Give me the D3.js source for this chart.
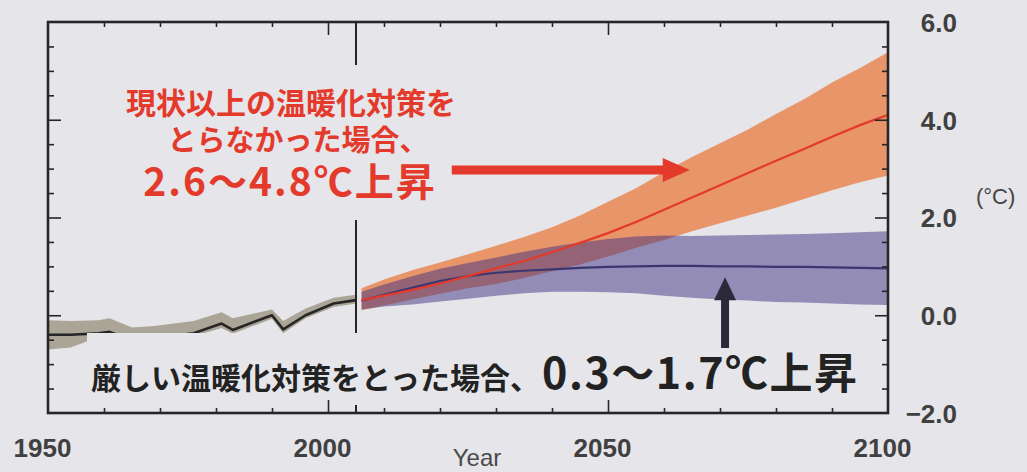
<!DOCTYPE html>
<html>
<head>
<meta charset="utf-8">
<script src="https://cdn.jsdelivr.net/npm/d3@7"></script>
<style>
  html, body { margin: 0; padding: 0; background: #e5e5ea; }
  svg { display: block; }
</style>
</head>
<body>
<svg id="chart" width="1027" height="472"></svg>
<script>
// Observed global mean surface temperature change (°C) and two projected pathways

// Observed record
const histYears = [1950, 1954, 1959, 1961, 1965, 1969, 1976, 1981, 1983, 1990, 1992, 1996, 2001, 2005];
const histMean  = [-0.40, -0.40, -0.37, -0.34, -0.51, -0.47, -0.37, -0.17, -0.30, 0.00, -0.29, 0.00, 0.24, 0.31];
const histHigh  = [-0.10, -0.12, -0.10, -0.06, -0.25, -0.22, -0.12, 0.06, -0.06, 0.12, -0.12, 0.14, 0.36, 0.42];
const histLow   = [-0.70, -0.66, -0.45, -0.42, -0.56, -0.53, -0.43, -0.26, -0.38, -0.07, -0.37, -0.06, 0.17, 0.24];

// Projection years
const projYears = [2006, 2010, 2015, 2020, 2025, 2030, 2035, 2040, 2045, 2050,
                   2055, 2060, 2065, 2070, 2075, 2080, 2085, 2090, 2095, 2100];

// High-emission pathway (no further mitigation)
const highMean  = [0.31, 0.40, 0.52, 0.65, 0.80, 0.96, 1.11, 1.29, 1.48, 1.68,
                   1.91, 2.16, 2.41, 2.66, 2.91, 3.16, 3.40, 3.65, 3.89, 4.10];
const highUpper = [0.55, 0.73, 0.92, 1.08, 1.25, 1.42, 1.60, 1.80, 2.04, 2.32,
                   2.60, 2.93, 3.24, 3.52, 3.80, 4.12, 4.42, 4.76, 5.06, 5.38];
const highLower = [0.10, 0.20, 0.32, 0.44, 0.55, 0.64, 0.76, 0.90, 1.04, 1.20,
                   1.38, 1.54, 1.72, 1.88, 2.04, 2.20, 2.38, 2.56, 2.72, 2.86];

// Strong-mitigation pathway
const lowMean   = [0.30, 0.42, 0.56, 0.70, 0.80, 0.87, 0.91, 0.94, 0.97, 0.99,
                   1.00, 1.01, 1.01, 1.00, 1.00, 0.99, 0.99, 0.98, 0.97, 0.96];
const lowUpper  = [0.48, 0.63, 0.80, 0.95, 1.07, 1.18, 1.30, 1.40, 1.49, 1.56,
                   1.61, 1.63, 1.62, 1.63, 1.64, 1.65, 1.66, 1.68, 1.70, 1.72];
const lowLower  = [0.12, 0.18, 0.22, 0.28, 0.34, 0.40, 0.45, 0.48, 0.48, 0.47,
                   0.45, 0.40, 0.36, 0.32, 0.30, 0.27, 0.26, 0.24, 0.22, 0.21];

// Axis ticks and labels
const xLabelYears = [1950, 2000, 2050, 2100];
const xMajorTicks = [2000, 2050];
const xMinorTicks = [1960, 1970, 1980, 1990, 2010, 2020, 2030, 2040, 2060, 2070, 2080, 2090];
const yLabelValues = [-2, 0, 2, 4, 6];
const yMajorTicks = [0, 2, 4];
const yMinorTicks = [-1.5, -1, -0.5, 0.5, 1, 1.5, 2.5, 3, 3.5, 4.5, 5, 5.5];
const baseYear = 2005;

// Annotation text
const highNoteLines = ["現状以上の温暖化対策を", "とらなかった場合、", "2.6～4.8℃上昇"];
const lowNoteSmall = "厳しい温暖化対策をとった場合、";
const lowNoteLarge = "0.3～1.7℃上昇";
const unitLabel = "(°C)";
const xTitle = "Year";

// Arrow anchors in data space: [year, value] tail -> head
const highArrow = [[2022.1, 2.97], [2064.6, 2.97]];
const lowArrow  = [[2070.9, -0.67], [2070.9, 0.78]];

const BG = "#e5e5ea";
const RED = "#e33a2c";
const INK = "#262626";

const svg = d3.select("#chart");
const W = 1027, H = 472;
const plot = { left: 48, right: 888, top: 22, bottom: 413 };

const x = d3.scaleLinear().domain([1950, 2100]).range([plot.left, plot.right]);
const y = d3.scaleLinear().domain([-2, 6]).range([plot.bottom, plot.top]);

svg.append("rect").attr("width", W).attr("height", H).attr("fill", BG);

const zip = (xs, ...cols) => xs.map((v, i) => [v, ...cols.map(c => c[i])]);

const area = d3.area()
  .x(d => x(d[0])).y0(d => y(d[1])).y1(d => y(d[2]));
const line = d3.line()
  .x(d => x(d[0])).y(d => y(d[1]));

svg.append("defs").append("clipPath").attr("id", "plotClip")
  .append("rect")
  .attr("x", plot.left).attr("y", plot.top)
  .attr("width", plot.right - plot.left).attr("height", plot.bottom - plot.top);

const gData = svg.append("g").attr("clip-path", "url(#plotClip)");

// Uncertainty bands
gData.append("path")
  .datum(zip(histYears, histLow, histHigh))
  .attr("d", area).attr("fill", "#aaa597");

gData.append("path")
  .datum(zip(projYears, highLower, highUpper))
  .attr("d", area).attr("fill", "#e9956a");

gData.append("path")
  .datum(zip(projYears, lowLower, lowUpper))
  .attr("d", area).attr("fill", "#3f3381").attr("fill-opacity", 0.5);

// Central estimates
gData.append("path")
  .datum(zip(histYears, histMean))
  .attr("d", line).attr("fill", "none").attr("stroke", INK).attr("stroke-width", 2.6)
  .attr("stroke-linejoin", "round");

gData.append("path")
  .datum(zip(projYears, lowMean))
  .attr("d", line).attr("fill", "none").attr("stroke", "#3b3670").attr("stroke-width", 2.2);

gData.append("path")
  .datum(zip(projYears, highMean))
  .attr("d", line).attr("fill", "none").attr("stroke", RED).attr("stroke-width", 2.2);

// Divider between observations and projections
svg.append("line")
  .attr("x1", x(baseYear)).attr("x2", x(baseYear))
  .attr("y1", plot.top).attr("y2", plot.bottom)
  .attr("stroke", INK).attr("stroke-width", 2);

const cjk = "'Noto Sans CJK JP', 'Noto Sans CJK SC', sans-serif";

// Text blocks, each with a background plate that interrupts the divider
function plate(textSel, padTop, padBottom) {
  const b = textSel.node().getBBox();
  return { x: b.x - 4, y: b.y - padTop, w: b.width + 8, h: b.height + padTop + padBottom };
}

const gNotes = svg.append("g");
const gPlates = gNotes.append("g");

const highNote = gNotes.append("g").attr("fill", RED)
  .style("font-family", cjk).style("font-weight", 700);
const hx = [291, 298, 290];
const hy = [101, 138, 179];
const hs = [30, 29, 39];
const hls = [0, 0, 2];
highNoteLines.forEach((t, i) => {
  highNote.append("text")
    .attr("x", hx[i]).attr("y", hy[i])
    .attr("text-anchor", "middle")
    .attr("dominant-baseline", "central")
    .style("font-size", hs[i] + "px")
    .style("letter-spacing", hls[i] + "px")
    .text(t);
});

const lowNote = gNotes.append("text")
  .attr("x", 91).attr("y", 389)
  .attr("fill", "#222")
  .style("font-family", cjk).style("font-weight", 700);
lowNote.append("tspan").style("font-size", "30px").text(lowNoteSmall);
lowNote.append("tspan").attr("dx", 2).style("font-size", "43px")
  .style("letter-spacing", "1.5px").text(lowNoteLarge);

[[highNote, 14, 13], [lowNote, 6, 4]].forEach(([sel, pt, pb]) => {
  const p = plate(sel, pt, pb);
  gPlates.append("rect")
    .attr("x", p.x).attr("y", p.y).attr("width", p.w).attr("height", p.h)
    .attr("fill", BG);
});

// Arrows
function arrow(g, seg, color, shaft, headLen, headHalf) {
  const [p0, p1] = seg.map(([yr, v]) => [x(yr), y(v)]);
  const dx = p1[0] - p0[0], dy = p1[1] - p0[1];
  const len = Math.hypot(dx, dy);
  const ux = dx / len, uy = dy / len, nx = -uy, ny = ux;
  const bx = p1[0] - ux * headLen, by = p1[1] - uy * headLen;
  g.append("line")
    .attr("x1", p0[0]).attr("y1", p0[1]).attr("x2", bx + ux).attr("y2", by + uy)
    .attr("stroke", color).attr("stroke-width", shaft);
  g.append("path")
    .attr("d", d3.line()([
      [p1[0], p1[1]],
      [bx + nx * headHalf, by + ny * headHalf],
      [bx - nx * headHalf, by - ny * headHalf]
    ]) + "Z")
    .attr("fill", color);
}
const gArrows = svg.append("g");
arrow(gArrows, highArrow, RED, 9, 27, 12);
arrow(gArrows, lowArrow, "#2b2a3a", 8, 23, 11);

// Frame and inward ticks
const gAxes = svg.append("g").attr("color", INK);

function ticks(axisFn, scale, values, size, transform) {
  const g = gAxes.append("g").attr("transform", transform)
    .call(axisFn(scale).tickValues(values).tickSize(size).tickFormat(""));
  g.select(".domain").remove();
  g.selectAll(".tick line").attr("stroke-width", 1.6);
}
ticks(d3.axisRight, y, yMinorTicks, 6, `translate(${plot.left},0)`);
ticks(d3.axisRight, y, yMajorTicks, 13, `translate(${plot.left},0)`);
ticks(d3.axisLeft, y, yMinorTicks, 6, `translate(${plot.right},0)`);
ticks(d3.axisLeft, y, yMajorTicks, 13, `translate(${plot.right},0)`);
ticks(d3.axisTop, x, xMinorTicks, 5, `translate(0,${plot.bottom})`);
ticks(d3.axisTop, x, xMajorTicks, 13, `translate(0,${plot.bottom})`);
ticks(d3.axisBottom, x, xMinorTicks, 5, `translate(0,${plot.top})`);
ticks(d3.axisBottom, x, xMajorTicks, 13, `translate(0,${plot.top})`);

svg.append("rect")
  .attr("x", plot.left).attr("y", plot.top)
  .attr("width", plot.right - plot.left).attr("height", plot.bottom - plot.top)
  .attr("fill", "none").attr("stroke", INK).attr("stroke-width", 2.6);

// Tick labels
const labelFont = "'Liberation Sans', Arial, sans-serif";

const yLab = svg.append("g").attr("transform", `translate(${plot.right},0)`)
  .call(d3.axisRight(y).tickValues(yLabelValues).tickSize(0).tickFormat(d3.format(".1f")));
yLab.select(".domain").remove();
yLab.selectAll("text")
  .attr("x", 69).attr("dy", "0.36em")
  .attr("text-anchor", "end")
  .attr("fill", "#404040")
  .style("font-family", labelFont).style("font-size", "26px").style("font-weight", 700);

const xLab = svg.append("g").attr("transform", `translate(0,${plot.bottom})`)
  .call(d3.axisBottom(x).tickValues(xLabelYears).tickSize(0).tickFormat(d3.format("d")));
xLab.select(".domain").remove();
xLab.selectAll("text")
  .attr("y", 44).attr("dy", 0).attr("dx", -6)
  .attr("fill", "#404040")
  .style("font-family", labelFont).style("font-size", "26px").style("font-weight", 700);

svg.append("text")
  .attr("x", 477).attr("y", 466)
  .attr("text-anchor", "middle")
  .attr("fill", "#4a4a4a")
  .style("font-family", labelFont).style("font-size", "24px")
  .text(xTitle);

svg.append("text")
  .attr("x", 976).attr("y", 196)
  .attr("dominant-baseline", "central")
  .attr("fill", "#444")
  .style("font-family", labelFont).style("font-size", "22px")
  .text(unitLabel);
</script>
</body>
</html>
